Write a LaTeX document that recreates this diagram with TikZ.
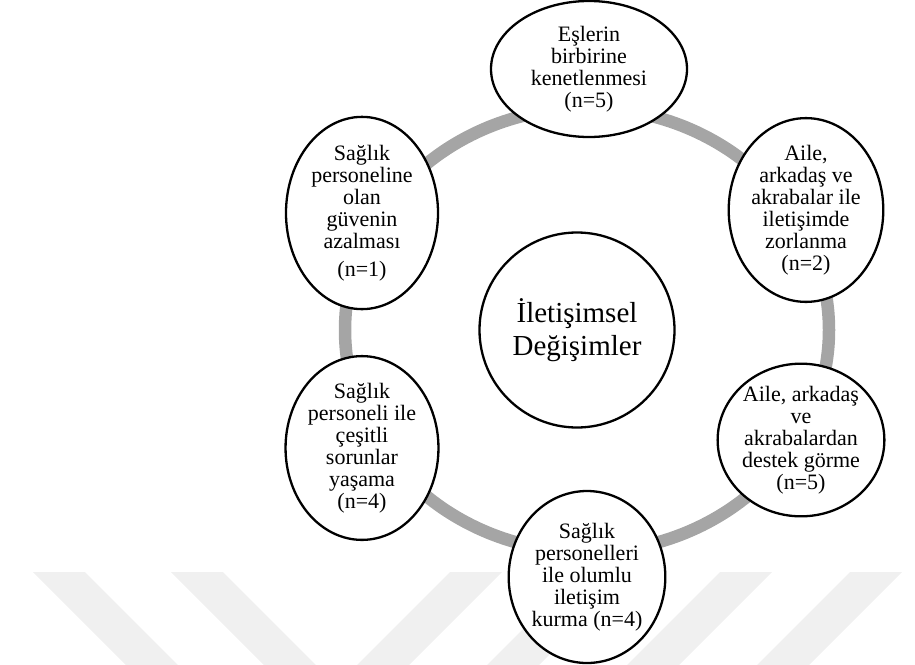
\documentclass[tikz,border=0pt]{standalone}
\usepackage{fontspec}
\setmainfont{Liberation Serif}
\usetikzlibrary{shapes.geometric}
\definecolor{ringgray}{HTML}{A5A5A5}
\definecolor{bandgray}{HTML}{F0F0F0}
\tikzset{
  theme/.style={ellipse, draw=black, line width=2.3pt, fill=white, inner sep=0pt,
    align=center, font=\fontsize{22}{22}\selectfont},
  core/.style={circle, draw=black, line width=2.3pt, fill=white, inner sep=0pt,
    align=center, font=\fontsize{29}{33}\selectfont},
  ring/.style={draw=ringgray, line width=12.5pt},
  band/.style={fill=bandgray}
}
\begin{document}
\begin{tikzpicture}[x=1pt,y=-1pt]
\useasboundingbox (0,0) rectangle (915,664);

% faint diagonal bands along the lower edge
\begin{scope}
  \clip (0,572) rectangle (915,664);
  \foreach \b in {125,263}
    \fill[band] (\b-124,540) -- (\b-72,540) -- (\b+52+20,684) -- (\b+20,684) -- cycle;
  \foreach \b in {358,488,628,758}
    \fill[band] (\b+124,540) -- (\b+176,540) -- (\b+52-20,684) -- (\b-20,684) -- cycle;
\end{scope}

% grey cycle behind the nodes
\draw[ring] (587,330) ellipse [x radius=242, y radius=222];

% centre
\node[core, minimum size=195pt] (core) at (577,330) {İletişimsel\\Değişimler};

% surrounding themes
\node[theme, minimum width=196pt, minimum height=136pt] (top) at (589,69)
  {Eşlerin\\birbirine\\kenetlenmesi\\(n=5)};
\node[theme, minimum width=152pt, minimum height=156pt] (ul) at (362,213)
  {Sağlık\\personeline\\olan\\güvenin\\azalması\\[6pt](n=1)};
\node[theme, minimum width=150pt, minimum height=152pt] (ur) at (806,210)
  {Aile,\\arkadaş ve\\akrabalar ile\\iletişimde\\zorlanma\\(n=2)};
\node[theme, minimum width=166pt, minimum height=152pt] (lr) at (801,440)
  {Aile, arkadaş\\ve\\akrabalardan\\destek görme\\(n=5)};
\node[theme, minimum width=150pt, minimum height=172pt] (bot) at (587,577)
  {Sağlık\\personelleri\\ile olumlu\\iletişim\\kurma (n=4)};
\node[theme, minimum width=152pt, minimum height=148pt] (ll) at (362,448)
  {Sağlık\\personeli ile\\çeşitli\\sorunlar\\yaşama\\(n=4)};
\end{tikzpicture}
\end{document}
